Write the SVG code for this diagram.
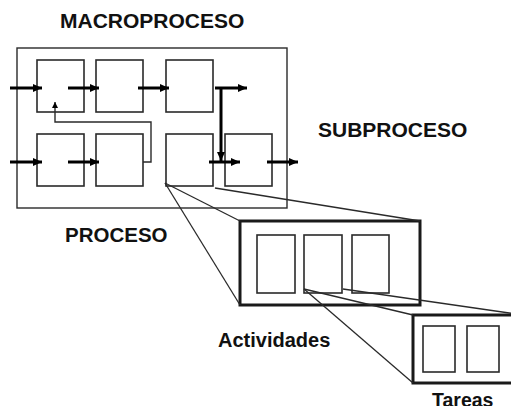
<svg xmlns="http://www.w3.org/2000/svg" width="511" height="406" viewBox="0 0 511 406">
<style>
.box{fill:none;stroke:#2a2a2a;stroke-width:1.6}
.frame{fill:none;stroke:#1a1a1a;stroke-width:3}
.outer{fill:none;stroke:#2a2a2a;stroke-width:1.4}
.arr{stroke:#000;stroke-width:3;fill:none;marker-end:url(#ah)}
.thin{stroke:#2a2a2a;stroke-width:1.4;fill:none}
.zoom{stroke:#2a2a2a;stroke-width:1.3;fill:none}
.lbl{font-family:"Liberation Sans",Arial,sans-serif;font-weight:bold;fill:#111}
</style>
<defs>
<marker id="ah" markerUnits="userSpaceOnUse" markerWidth="10" markerHeight="10" refX="9" refY="5" orient="auto"><path d="M0,1 L9,5 L0,9 Z" fill="#000"/></marker>
<marker id="ahs" markerUnits="userSpaceOnUse" markerWidth="7" markerHeight="7" refX="6" refY="3.5" orient="auto"><path d="M0,0.5 L6,3.5 L0,6.5 Z" fill="#000"/></marker>
</defs>
<rect width="511" height="406" fill="#fff"/>
<g id="macroproceso">
<rect class="outer" x="17" y="48" width="270" height="160"/>
<text class="lbl" x="60" y="28" font-size="21">MACROPROCESO</text>
</g>
<g id="p1"><rect class="box" x="37" y="60" width="47" height="52"/></g>
<g id="p2"><rect class="box" x="96" y="60" width="47" height="52"/></g>
<g id="p3"><rect class="box" x="166" y="60" width="47" height="52"/></g>
<g id="p4"><rect class="box" x="37" y="134" width="47" height="52"/></g>
<g id="p5"><rect class="box" x="96" y="134" width="47" height="52"/></g>
<g id="p6"><rect class="box" x="166" y="134" width="47" height="52"/></g>
<g id="p7"><rect class="box" x="225" y="134" width="47" height="52"/></g>
<g id="lbl-sub"><text class="lbl" x="318" y="137" font-size="21">SUBPROCESO</text></g>
<g id="lbl-proc"><text class="lbl" x="65" y="242" font-size="20.5">PROCESO</text></g>
<g id="actividades">
<rect class="frame" x="240" y="221" width="180" height="84"/>
<rect class="box" x="257" y="235" width="38" height="58"/>
<rect class="box" x="304" y="235" width="38" height="58"/>
<rect class="box" x="352" y="235" width="37" height="58"/>
<text class="lbl" x="218" y="347" font-size="20">Actividades</text>
</g>
<g id="tareas">
<rect class="frame" x="413" y="315" width="110" height="68"/>
<rect class="box" x="423" y="326" width="32" height="46"/>
<rect class="box" x="467" y="326" width="32" height="46"/>
<text class="lbl" x="432" y="407" font-size="19.5">Tareas</text>
</g>
<g id="connectors">
<line class="arr" x1="10" y1="88" x2="42" y2="88"/>
<line class="arr" x1="68" y1="88" x2="99" y2="88"/>
<line class="arr" x1="138" y1="88" x2="169" y2="88"/>
<line class="arr" x1="215" y1="88" x2="247" y2="88"/>
<line class="arr" x1="221" y1="88" x2="221" y2="161"/>
<line class="arr" x1="10" y1="162" x2="42" y2="162"/>
<line class="arr" x1="68" y1="162" x2="99" y2="162"/>
<line class="arr" x1="209" y1="162" x2="240" y2="162"/>
<line class="arr" x1="267" y1="162" x2="298" y2="162"/>
<polyline class="thin" points="143,162 151,162 151,122 55,122 55,102" marker-end="url(#ahs)"/>
<line class="zoom" x1="165" y1="183" x2="240" y2="221"/>
<line class="zoom" x1="165" y1="183" x2="240" y2="305"/>
<line class="zoom" x1="215" y1="188" x2="420" y2="221"/>
<line class="zoom" x1="304" y1="289" x2="413" y2="315"/>
<line class="zoom" x1="304" y1="289" x2="413" y2="383"/>
<line class="zoom" x1="343" y1="289" x2="523" y2="315"/>
</g>
</svg>
